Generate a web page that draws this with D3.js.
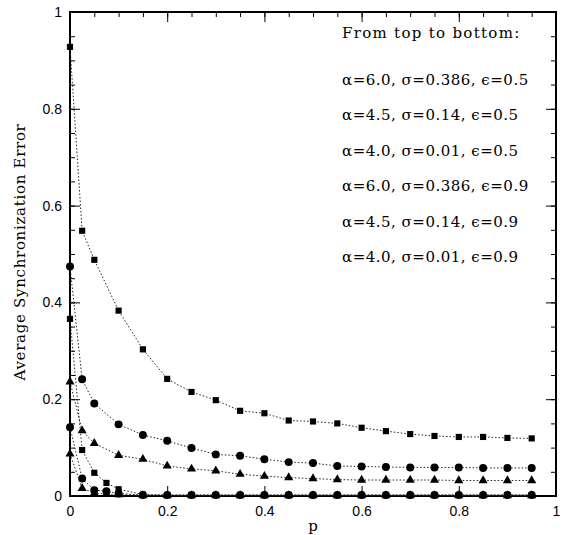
<!DOCTYPE html>
<html>
<head>
<meta charset="utf-8">
<script src="https://cdn.jsdelivr.net/npm/d3@7"></script>
<style>
  body { margin: 0; background: #fff; }
</style>
</head>
<body>
<div id="chart"></div>
<script>
// p values (top three curves have no p=0.075 point)
const pMain = [0, 0.025, 0.05, 0.1, 0.15, 0.2, 0.25, 0.3, 0.35, 0.4, 0.45, 0.5, 0.55, 0.6, 0.65, 0.7, 0.75, 0.8, 0.85, 0.9, 0.95];
const pLow = [0, 0.025, 0.05, 0.075, 0.1, 0.15, 0.2, 0.25, 0.3, 0.35, 0.4, 0.45, 0.5, 0.55, 0.6, 0.65, 0.7, 0.75, 0.8, 0.85, 0.9, 0.95];

// eps = 0.5
const a60e05 = [0.928, 0.548, 0.488, 0.383, 0.303, 0.242, 0.215, 0.198, 0.176, 0.171, 0.156, 0.154, 0.150, 0.141, 0.134, 0.128, 0.124, 0.122, 0.122, 0.120, 0.119];
const a45e05 = [0.474, 0.241, 0.191, 0.148, 0.126, 0.114, 0.099, 0.086, 0.083, 0.076, 0.070, 0.068, 0.062, 0.061, 0.060, 0.059, 0.059, 0.059, 0.058, 0.058, 0.058];
const a40e05 = [0.236, 0.135, 0.109, 0.084, 0.076, 0.062, 0.056, 0.052, 0.045, 0.041, 0.038, 0.036, 0.034, 0.033, 0.033, 0.033, 0.033, 0.032, 0.032, 0.032, 0.032];
// eps = 0.9
const a60e09 = [0.366, 0.095, 0.048, 0.027, 0.014, 0.003, 0.002, 0.002, 0.002, 0.002, 0.002, 0.002, 0.002, 0.002, 0.002, 0.002, 0.002, 0.002, 0.002, 0.002, 0.002, 0.002];
const a45e09 = [0.142, 0.036, 0.012, 0.010, 0.005, 0.002, 0.002, 0.002, 0.002, 0.002, 0.002, 0.002, 0.002, 0.002, 0.002, 0.002, 0.002, 0.002, 0.002, 0.002, 0.002, 0.002];
const a40e09 = [0.087, 0.016, 0.006, 0.004, 0.003, 0.001, 0.001, 0.001, 0.001, 0.001, 0.001, 0.001, 0.001, 0.001, 0.001, 0.001, 0.001, 0.001, 0.001, 0.001, 0.001, 0.001];

const legendLines = [
  "From top to bottom:",
  "α=6.0, σ=0.386, ϵ=0.5",
  "α=4.5, σ=0.14, ϵ=0.5",
  "α=4.0, σ=0.01, ϵ=0.5",
  "α=6.0, σ=0.386, ϵ=0.9",
  "α=4.5, σ=0.14, ϵ=0.9",
  "α=4.0, σ=0.01, ϵ=0.9"
];

const majorTicks = [0, 0.2, 0.4, 0.6, 0.8, 1];
const minorTicks = d3.range(0, 1.0001, 0.05);

const series = [
  {p: pMain, v: a60e05, shape: d3.symbolSquare},
  {p: pMain, v: a45e05, shape: d3.symbolCircle},
  {p: pMain, v: a40e05, shape: d3.symbolTriangle},
  {p: pLow, v: a60e09, shape: d3.symbolSquare},
  {p: pLow, v: a45e09, shape: d3.symbolCircle},
  {p: pLow, v: a40e09, shape: d3.symbolTriangle}
];

function drawChart() {
  const margin = {top: 12, right: 6, bottom: 39, left: 70},
      width = 562 - margin.left - margin.right,
      height = 535 - margin.top - margin.bottom;

  const svg = d3.select("#chart")
    .append("svg")
      .attr("width", 562)
      .attr("height", 535)
    .append("g")
      .attr("transform", `translate(${margin.left}, ${margin.top})`);

  const x = d3.scaleLinear().domain([0, 1]).range([0, width]);
  const y = d3.scaleLinear().domain([0, 1]).range([height, 0]);

  // ticks on all four sides, pointing inward; labels only bottom and left
  const sides = [
    {make: () => d3.axisBottom(x), t: `translate(0,${height})`, label: true, pad: 10},
    {make: () => d3.axisTop(x), t: "translate(0,0)", label: false, pad: 0},
    {make: () => d3.axisLeft(y), t: "translate(0,0)", label: true, pad: 8},
    {make: () => d3.axisRight(y), t: `translate(${width},0)`, label: false, pad: 0}
  ];
  sides.forEach(s => {
    svg.append("g")
      .attr("transform", s.t)
      .call(s.make().tickValues(minorTicks).tickSize(-5).tickFormat(""))
      .call(g => g.select(".domain").remove())
      .call(g => g.selectAll("line").attr("stroke", "#000"));

    const g = svg.append("g")
      .attr("transform", s.t)
      .call(s.make().tickValues(majorTicks).tickSizeInner(-10).tickSizeOuter(0).tickPadding(s.pad)
        .tickFormat(s.label ? d3.format("") : ""));
    g.select(".domain").remove();
    g.selectAll("line").attr("stroke", "#000").attr("stroke-width", 1);
    g.selectAll("text")
      .style("font-family", "'Liberation Sans', Arial, sans-serif")
      .style("font-size", "14px")
      .attr("fill", "#000");
  });

  // frame
  svg.append("rect")
    .attr("width", width)
    .attr("height", height)
    .attr("fill", "none")
    .attr("stroke", "#000")
    .attr("stroke-width", 2);

  const line = d3.line().x(d => x(d[0])).y(d => y(d[1]));

  series.forEach(s => {
    const pts = s.p.map((p, i) => [p, s.v[i]]);
    svg.append("path")
      .datum(pts)
      .attr("fill", "none")
      .attr("stroke", "#222")
      .attr("stroke-width", 1)
      .attr("stroke-dasharray", "1.5,2")
      .attr("d", line);
    const size = s.shape === d3.symbolSquare ? 38 : s.shape === d3.symbolCircle ? 50 : 36;
    svg.selectAll(null)
      .data(pts)
      .enter()
      .append("path")
        .attr("transform", d => `translate(${x(d[0])},${y(d[1])})`)
        .attr("d", d3.symbol().type(s.shape).size(size))
        .attr("fill", "#000");
  });

  // legend text
  svg.append("g")
    .selectAll("text")
    .data(legendLines)
    .enter()
    .append("text")
      .attr("x", 272)
      .attr("y", (d, i) => i === 0 ? 26 : 73 + (i - 1) * 35.4)
      .style("font-family", "'DejaVu Serif', serif")
      .style("font-size", "15px")
      .style("letter-spacing", (d, i) => i === 0 ? "1.3px" : "0.5px")
      .attr("fill", "#000")
      .text(d => d);

  // axis titles
  svg.append("text")
    .attr("x", width / 2)
    .attr("y", height + 35)
    .attr("text-anchor", "middle")
    .style("font-family", "'DejaVu Serif', serif")
    .style("font-size", "15px")
    .text("p");

  svg.append("text")
    .attr("transform", `translate(-45,${height / 2 - 2}) rotate(-90)`)
    .attr("text-anchor", "middle")
    .style("font-family", "'DejaVu Serif', serif")
    .style("font-size", "15px")
    .style("letter-spacing", "0.7px")
    .text("Average Synchronization Error");
}

drawChart();
</script>
</body>
</html>
